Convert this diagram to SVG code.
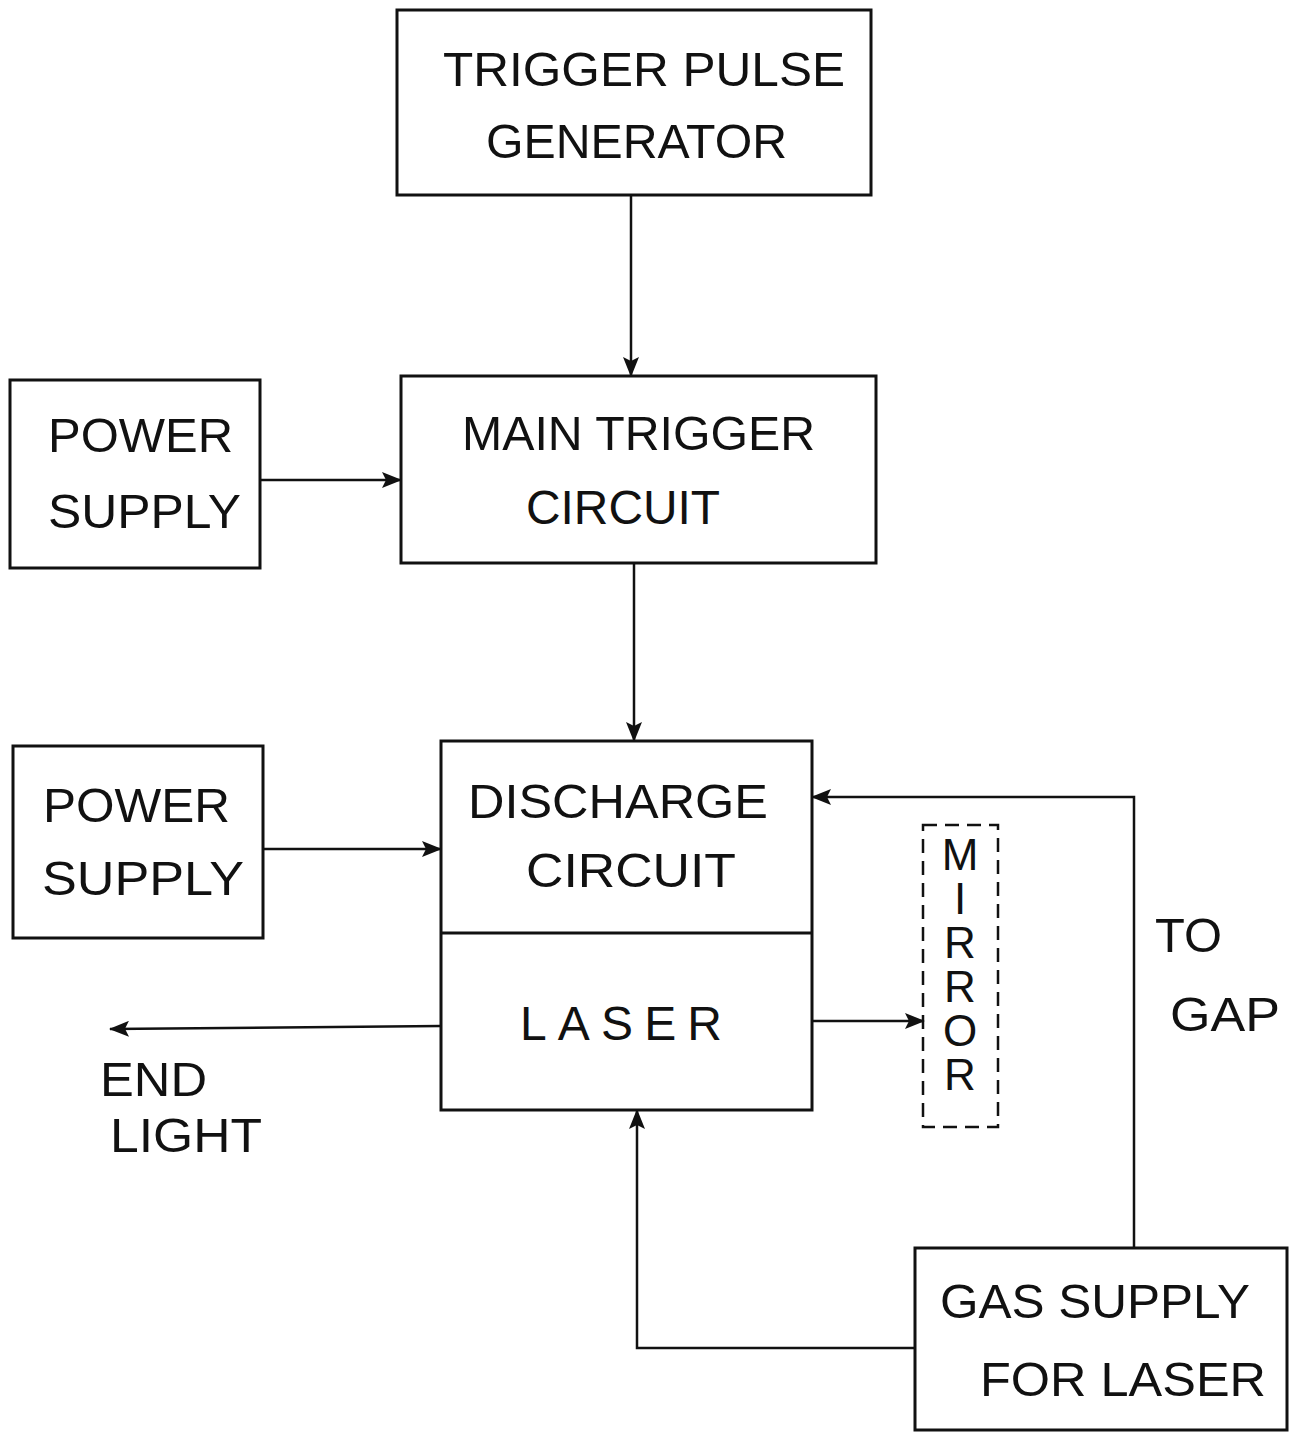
<svg xmlns="http://www.w3.org/2000/svg" width="1297" height="1433" viewBox="0 0 1297 1433">
<style>
.box{fill:none;stroke:#111;stroke-width:3}
.ln{fill:none;stroke:#111;stroke-width:2.5}
.t{font-family:"Liberation Sans",Arial,sans-serif;font-size:48px;fill:#111}
.m{font-family:"Liberation Sans",Arial,sans-serif;font-size:44px;fill:#111;writing-mode:vertical-rl;text-orientation:upright;letter-spacing:-5px}
</style>
<defs>
<marker id="ahb" markerWidth="20" markerHeight="16" refX="19" refY="8" orient="auto" markerUnits="userSpaceOnUse" viewBox="0 0 20 16">
<path d="M0,0 L20,8 L0,16 L4,8 Z" fill="#111"/>
</marker>
</defs>
<rect width="1297" height="1433" fill="#fff"/>
<g id="connectors">
<line class="ln" x1="631" y1="195" x2="631" y2="376" marker-end="url(#ahb)"/>
<line class="ln" x1="260" y1="480" x2="401" y2="480" marker-end="url(#ahb)"/>
<line class="ln" x1="634" y1="563" x2="634" y2="741" marker-end="url(#ahb)"/>
<line class="ln" x1="263" y1="849" x2="441" y2="849" marker-end="url(#ahb)"/>
<line class="ln" x1="441" y1="1026" x2="110" y2="1029" marker-end="url(#ahb)"/>
<line class="ln" x1="812" y1="1021" x2="924" y2="1021" marker-end="url(#ahb)"/>
<polyline class="ln" points="1134,1248 1134,797 812,797" marker-end="url(#ahb)"/>
<polyline class="ln" points="915,1348 637,1348 637,1110" marker-end="url(#ahb)"/>
</g>
<g id="trigger-pulse-generator">
<rect class="box" x="397" y="10" width="474" height="185"/>
<text class="t" x="443" y="86" textLength="402" lengthAdjust="spacingAndGlyphs">TRIGGER PULSE</text>
<text class="t" x="486" y="158" textLength="301" lengthAdjust="spacingAndGlyphs">GENERATOR</text>
</g>
<g id="main-trigger-circuit">
<rect class="box" x="401" y="376" width="475" height="187"/>
<text class="t" x="462" y="450" textLength="353" lengthAdjust="spacingAndGlyphs">MAIN TRIGGER</text>
<text class="t" x="526" y="524" textLength="194" lengthAdjust="spacingAndGlyphs">CIRCUIT</text>
</g>
<g id="power-supply-1">
<rect class="box" x="10" y="380" width="250" height="188"/>
<text class="t" x="48" y="452" textLength="185" lengthAdjust="spacingAndGlyphs">POWER</text>
<text class="t" x="48" y="528" textLength="193" lengthAdjust="spacingAndGlyphs">SUPPLY</text>
</g>
<g id="power-supply-2">
<rect class="box" x="13" y="746" width="250" height="192"/>
<text class="t" x="43" y="822" textLength="187" lengthAdjust="spacingAndGlyphs">POWER</text>
<text class="t" x="42" y="895" textLength="202" lengthAdjust="spacingAndGlyphs">SUPPLY</text>
</g>
<g id="discharge-laser">
<rect class="box" x="441" y="741" width="371" height="369"/>
<line class="box" x1="441" y1="933" x2="812" y2="933"/>
<text class="t" x="468" y="818" textLength="300" lengthAdjust="spacingAndGlyphs">DISCHARGE</text>
<text class="t" x="526" y="887" textLength="210" lengthAdjust="spacingAndGlyphs">CIRCUIT</text>
<text class="t" x="520" y="1040" textLength="202" lengthAdjust="spacing">LASER</text>
</g>
<g id="mirror">
<rect x="923" y="825" width="75" height="302" fill="none" stroke="#111" stroke-width="2.5" stroke-dasharray="14,8"/>
<text class="m" x="960" y="830">MIRROR</text>
</g>
<g id="end-light">
<text class="t" x="100" y="1096" textLength="107" lengthAdjust="spacingAndGlyphs">END</text>
<text class="t" x="110" y="1152" textLength="152" lengthAdjust="spacingAndGlyphs">LIGHT</text>
</g>
<g id="to-gap">
<text class="t" x="1155" y="952" textLength="67" lengthAdjust="spacingAndGlyphs">TO</text>
<text class="t" x="1170" y="1031" textLength="110" lengthAdjust="spacingAndGlyphs">GAP</text>
</g>
<g id="gas-supply">
<rect class="box" x="915" y="1248" width="372" height="182"/>
<text class="t" x="940" y="1318" textLength="310" lengthAdjust="spacingAndGlyphs">GAS SUPPLY</text>
<text class="t" x="980" y="1396" textLength="286" lengthAdjust="spacingAndGlyphs">FOR LASER</text>
</g>
</svg>
